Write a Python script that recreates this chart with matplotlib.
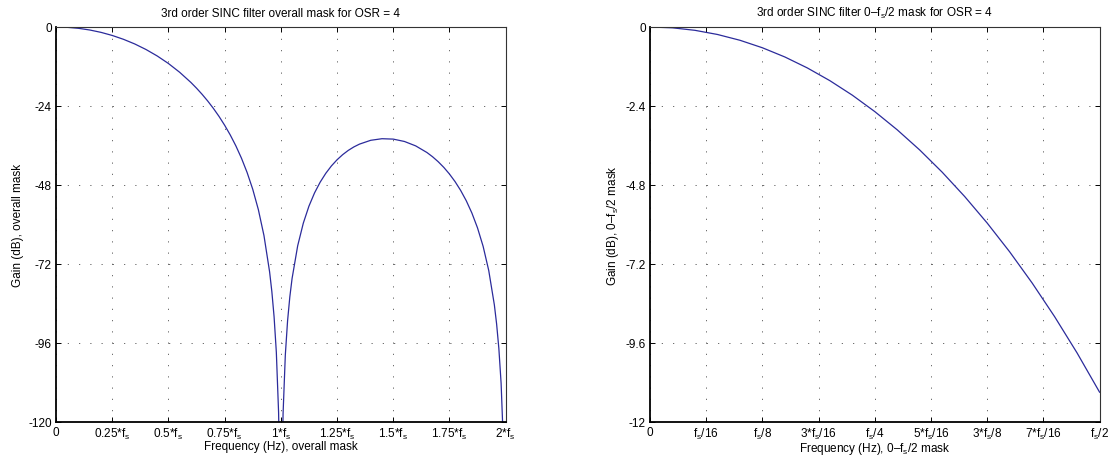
import matplotlib
matplotlib.use("Agg")
import matplotlib.pyplot as plt

plt.rcParams['font.family'] = ['Liberation Sans', 'DejaVu Sans']
plt.rcParams['mathtext.fontset'] = 'custom'
plt.rcParams['mathtext.rm'] = 'Liberation Sans'
plt.rcParams['font.size'] = 8.5

# frequencies in units of fs, gains in dB
freq_overall = [0.0, 0.05, 0.1, 0.15, 0.2, 0.25, 0.3, 0.35, 0.4, 0.45, 0.5, 0.55, 0.6, 0.625,
                0.65, 0.675, 0.7, 0.725, 0.75, 0.775, 0.8, 0.825, 0.85, 0.875, 0.9, 0.925,
                0.95, 0.96, 0.97, 0.98, 0.99, 0.995, 1.0, 1.005, 1.01, 1.02, 1.03, 1.04, 1.05,
                1.075, 1.1, 1.125, 1.15, 1.175, 1.2, 1.225, 1.25, 1.275, 1.3, 1.325, 1.35,
                1.4, 1.45, 1.5, 1.55, 1.6, 1.65, 1.675, 1.7, 1.725, 1.75, 1.775, 1.8, 1.825,
                1.85, 1.875, 1.9, 1.925, 1.95, 1.96, 1.97, 1.98, 1.99, 2.0]
gain_overall = [0.0, -0.10, -0.40, -0.91, -1.63, -2.57, -3.74, -5.15, -6.83, -8.80, -11.09,
                -13.76, -16.85, -18.59, -20.47, -22.51, -24.73, -27.16, -29.84, -32.80,
                -36.12, -39.88, -44.21, -49.29, -55.48, -63.37, -74.37, -80.36, -88.05,
                -98.80, -117.06, -135.2, -300.0, -135.4, -117.47, -99.62, -89.28, -82.00,
                -76.42, -66.46, -59.59, -54.44, -50.40, -47.14, -44.45, -42.21, -40.35,
                -38.79, -37.49, -36.43, -35.58, -34.42, -33.94, -34.06, -34.78, -36.12,
                -38.13, -39.42, -40.92, -42.65, -44.65, -46.96, -49.65, -52.79, -56.52,
                -61.03, -66.64, -73.99, -84.44, -90.23, -97.70, -108.25, -126.3, -300.0]

freq_band = [0.0, 0.025, 0.05, 0.075, 0.1, 0.125, 0.15, 0.175, 0.2, 0.225, 0.25, 0.275,
             0.3, 0.325, 0.35, 0.375, 0.4, 0.425, 0.45, 0.475, 0.5]
gain_band = [0.0, -0.025, -0.101, -0.227, -0.403, -0.631, -0.911, -1.244, -1.630, -2.071,
             -2.570, -3.125, -3.737, -4.412, -5.151, -5.956, -6.830, -7.777, -8.800, -9.903,
             -11.094]

overall_xticks = [0, 0.25, 0.5, 0.75, 1.0, 1.25, 1.5, 1.75, 2.0]
overall_xlabels = ['0', r'0.25*f$_\mathregular{s}$', r'0.5*f$_\mathregular{s}$',
                   r'0.75*f$_\mathregular{s}$', r'1*f$_\mathregular{s}$',
                   r'1.25*f$_\mathregular{s}$', r'1.5*f$_\mathregular{s}$',
                   r'1.75*f$_\mathregular{s}$', r'2*f$_\mathregular{s}$']
overall_yticks = [-120, -96, -72, -48, -24, 0]

band_xticks = [0, 1/16, 2/16, 3/16, 4/16, 5/16, 6/16, 7/16, 8/16]
band_xlabels = ['0', r'f$_\mathregular{s}$/16', r'f$_\mathregular{s}$/8',
                r'3*f$_\mathregular{s}$/16', r'f$_\mathregular{s}$/4',
                r'5*f$_\mathregular{s}$/16', r'3*f$_\mathregular{s}$/8',
                r'7*f$_\mathregular{s}$/16', r'f$_\mathregular{s}$/2']
band_yticks = [-12, -9.6, -7.2, -4.8, -2.4, 0]
band_ylabels = ['-12', '-9.6', '-7.2', '-4.8', '-2.4', '0']

line_color = '#2b2b9b'
fs_txt = 8.5

fig = plt.figure(figsize=(11.1, 4.56), dpi=100)
ax1 = fig.add_axes([0.0505, 0.0724, 0.405, 0.8662])
ax2 = fig.add_axes([0.5856, 0.0724, 0.405, 0.8662])


def style_axes(ax):
    ax.grid(True, color='#555555', linestyle=(0, (1.5, 12)), linewidth=0.6)
    ax.tick_params(direction='in', top=True, right=True, length=3.5, width=0.7,
                   pad=3, labelsize=fs_txt)
    for side in ['left', 'bottom']:
        ax.spines[side].set_linewidth(1.3)
    for side in ['top', 'right']:
        ax.spines[side].set_linewidth(0.8)
        ax.spines[side].set_color('#333333')


ax1.plot(freq_overall, gain_overall, color=line_color, linewidth=0.9)
ax1.set_xlim(0, 2)
ax1.set_ylim(-120, 0)
ax1.set_xticks(overall_xticks)
ax1.set_xticklabels(overall_xlabels)
ax1.set_yticks(overall_yticks)
ax1.set_yticklabels([str(v) for v in overall_yticks])
ax1.set_title('3rd order SINC filter overall mask for OSR = 4', fontsize=fs_txt, pad=8)
ax1.set_xlabel('Frequency (Hz), overall mask', fontsize=fs_txt, labelpad=-1)
ax1.set_ylabel('Gain (dB), overall mask', fontsize=fs_txt, labelpad=3)
style_axes(ax1)

ax2.plot(freq_band, gain_band, color=line_color, linewidth=0.9)
ax2.set_xlim(0, 0.5)
ax2.set_ylim(-12, 0)
ax2.set_xticks(band_xticks)
ax2.set_xticklabels(band_xlabels)
ax2.set_yticks(band_yticks)
ax2.set_yticklabels(band_ylabels)
ax2.set_title(r'3rd order SINC filter 0–f$_\mathregular{s}$/2 mask for OSR = 4',
              fontsize=fs_txt, pad=8)
ax2.set_xlabel(r'Frequency (Hz), 0–f$_\mathregular{s}$/2 mask', fontsize=fs_txt, labelpad=-1)
ax2.set_ylabel(r'Gain (dB), 0–f$_\mathregular{s}$/2 mask', fontsize=fs_txt, labelpad=3)
style_axes(ax2)

fig.savefig('out.png', dpi=100)
